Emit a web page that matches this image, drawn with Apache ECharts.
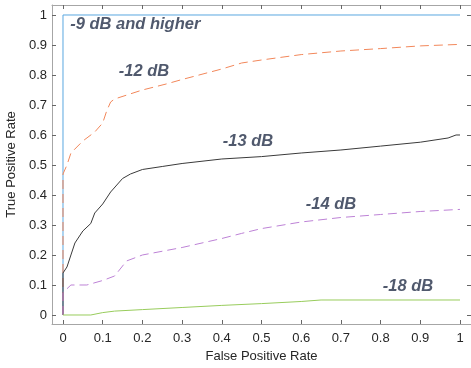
<!DOCTYPE html>
<html>
<head>
<meta charset="utf-8">
<script src="https://cdn.jsdelivr.net/npm/echarts@6/dist/echarts.min.js"></script>
<style>
  html, body { margin: 0; padding: 0; background: #fff; }
  #roc { width: 471px; height: 368px; }
</style>
</head>
<body>
<div id="roc"></div>
<script>
// tick values for both axes
const ticks = [0, 0.1, 0.2, 0.3, 0.4, 0.5, 0.6, 0.7, 0.8, 0.9, 1]

// ROC curves, [FPR, TPR]
const db9 = [[0, 0], [0, 1], [1, 1]]
const db12 = [[0, 0], [0, 0.47], [0.01, 0.5], [0.02, 0.54], [0.05, 0.58], [0.08, 0.61],
  [0.1, 0.64], [0.11, 0.68], [0.12, 0.71], [0.13, 0.72], [0.2, 0.75], [0.26, 0.77],
  [0.3, 0.785], [0.4, 0.82], [0.45, 0.84], [0.5, 0.85], [0.6, 0.868], [0.7, 0.88],
  [0.8, 0.888], [0.9, 0.897], [1, 0.902]]
const db13 = [[0, 0], [0, 0.14], [0.01, 0.16], [0.02, 0.2], [0.03, 0.24], [0.05, 0.28],
  [0.07, 0.305], [0.08, 0.34], [0.1, 0.37], [0.12, 0.41], [0.15, 0.455], [0.17, 0.47],
  [0.2, 0.485], [0.25, 0.495], [0.3, 0.505], [0.4, 0.52], [0.5, 0.528], [0.6, 0.54],
  [0.7, 0.55], [0.8, 0.563], [0.9, 0.576], [0.97, 0.59], [0.99, 0.6], [1, 0.6]]
const db14 = [[0, 0], [0, 0.075], [0.02, 0.1], [0.06, 0.1], [0.1, 0.115], [0.13, 0.13],
  [0.16, 0.18], [0.2, 0.2], [0.3, 0.225], [0.4, 0.255], [0.45, 0.272], [0.5, 0.288],
  [0.6, 0.31], [0.7, 0.325], [0.8, 0.335], [0.9, 0.345], [1, 0.352]]
const db18 = [[0, 0], [0.07, 0], [0.1, 0.008], [0.13, 0.013], [0.2, 0.018], [0.3, 0.025],
  [0.4, 0.032], [0.5, 0.038], [0.6, 0.045], [0.65, 0.05], [1, 0.05]]

// annotation text and where it sits (data units)
const labels = ['-9 dB and higher', '-12 dB', '-13 dB', '-14 dB', '-18 dB']
const labelPos = [[0.018, 0.967], [0.204, 0.813], [0.466, 0.577], [0.675, 0.37], [0.869, 0.095]]
const labelAlign = ['left', 'center', 'center', 'center', 'center']

const axisGray = '#a6a6a6'
const textGray = '#262626'

const myChart = echarts.init(document.getElementById('roc'))

// box axes helper
const boxAxis = (pos, show) => ({
  type: 'value',
  position: pos,
  min: pos === 'left' || pos === 'right' ? -0.03 : -0.0277,
  max: pos === 'left' || pos === 'right' ? 1.0333 : 1.0277,
  axisLine: { show: true, onZero: false, lineStyle: { color: axisGray, width: 1 } },
  axisTick: { show: true, inside: true, length: 4, customValues: ticks, lineStyle: { color: '#666' } },
  axisLabel: {
    show: show,
    customValues: ticks,
    color: textGray,
    fontSize: 13,
    fontFamily: 'Liberation Sans, Arial',
    margin: pos === 'bottom' ? 8 : 5
  },
  splitLine: { show: false }
})

const xBottom = Object.assign(boxAxis('bottom', true), {
  name: 'False Positive Rate',
  nameLocation: 'middle',
  nameGap: 24,
  nameTextStyle: { color: textGray, fontSize: 13, fontFamily: 'Liberation Sans, Arial' }
})
const yLeft = Object.assign(boxAxis('left', true), {
  name: 'True Positive Rate',
  nameLocation: 'middle',
  nameGap: 29,
  nameTextStyle: { color: textGray, fontSize: 13, fontFamily: 'Liberation Sans, Arial' }
})

const lineSeries = (name, data, color, dashed, z) => ({
  name: name,
  type: 'line',
  data: data,
  showSymbol: false,
  symbol: 'none',
  z: z,
  lineStyle: { color: color, width: 1, type: dashed ? [9, 5] : 'solid' },
  animation: false
})

const option = {
  animation: false,
  grid: { left: 52, top: 5, right: 0, bottom: 44, containLabel: false, outerBoundsMode: 'none' },
  xAxis: [xBottom, boxAxis('top', false)],
  yAxis: [yLeft, boxAxis('right', false)],
  series: [
    lineSeries('-9 dB and higher', db9, '#5aa7e0', false, 2),
    lineSeries('-12 dB', db12, '#f2875a', true, 3),
    lineSeries('-13 dB', db13, '#3a3a3a', false, 4),
    lineSeries('-14 dB', db14, '#bd82d6', true, 5),
    lineSeries('-18 dB', db18, '#98cc5c', false, 6),
    {
      type: 'scatter',
      symbolSize: 0,
      z: 10,
      silent: true,
      data: labels.map((t, i) => ({
        value: labelPos[i],
        label: {
          show: true,
          formatter: t,
          position: 'inside',
          align: labelAlign[i],
          verticalAlign: 'middle',
          color: '#243049',
          fontSize: 16.5,
          fontWeight: 'bold',
          fontStyle: 'italic',
          fontFamily: 'Liberation Sans, Arial'
        }
      }))
    }
  ]
}
myChart.setOption(option)
</script>
</body>
</html>
